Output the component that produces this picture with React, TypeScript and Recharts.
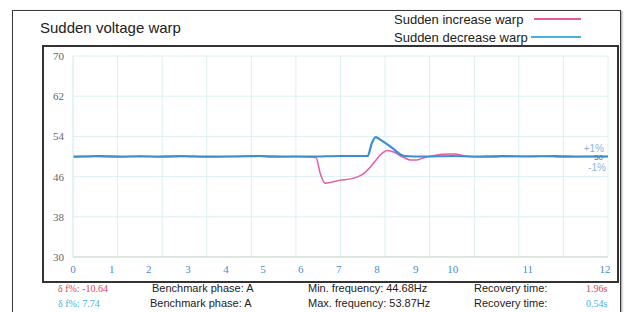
import { CartesianGrid, Line, LineChart, ReferenceLine, XAxis, YAxis } from "recharts";

// x values are in chart grid columns (12 equal columns), y in Hz
const increaseT = [0, 0.5, 1, 1.5, 2, 2.5, 3, 3.5, 4, 4.5, 5, 5.3, 5.45, 5.55, 5.65, 5.8, 5.99, 6.2, 6.37, 6.52, 6.66, 6.78, 6.88, 6.96, 7.04, 7.12, 7.22, 7.33, 7.45, 7.56, 7.7, 7.85, 8.05, 8.23, 8.4, 8.56, 8.79, 9.2, 9.8, 10.4, 11, 11.5, 12];
const increaseV = [49.9, 50.0, 49.9, 50.1, 49.9, 50.0, 49.9, 50.0, 50.1, 49.9, 50.0, 49.9, 49.8, 46.5, 44.7, 44.9, 45.3, 45.5, 45.9, 46.6, 47.8, 49.1, 50.2, 50.8, 51.2, 51.1, 50.8, 50.2, 49.7, 49.3, 49.3, 49.7, 50.1, 50.4, 50.5, 50.5, 50.1, 49.9, 50.0, 50.1, 49.9, 50.0, 50.0];
const decreaseT = [0, 0.6, 1.2, 1.8, 2.4, 3, 3.6, 4.2, 4.8, 5.4, 6, 6.61, 6.7, 6.79, 6.9, 7.05, 7.2, 7.33, 7.44, 7.9, 8.5, 9, 9.6, 10.2, 10.8, 11.4, 12];
const decreaseV = [50.0, 50.1, 50.0, 50.0, 50.1, 50.0, 50.0, 50.1, 50.0, 50.0, 50.1, 50.1, 52.6, 53.87, 53.3, 52.4, 51.4, 50.5, 50.1, 50.0, 50.1, 50.0, 50.1, 50.0, 50.1, 50.0, 50.0];

const tickLabels = ["0", "1", "2", "3", "4", "5", "6", "7", "8", "9", "10", "11", "12"];
const tickAt = [0, 0.87, 1.7, 2.58, 3.43, 4.26, 5.11, 5.96, 6.82, 7.69, 8.52, 10.2, 11.93];
const gridCols = [0, 1, 2, 3, 4, 5, 6, 7, 8, 9, 10, 11, 12];
const yTicks = [30, 38, 46, 54, 62, 70];

const increaseData = increaseT.map((t, i) => ({ t, v: increaseV[i] }));
const decreaseData = decreaseT.map((t, i) => ({ t, v: decreaseV[i] }));

const PINK = "#e659a6";
const BLUE = "#3a8fd0";
const sans = "'Liberation Sans', Arial, sans-serif";
const serif = "'Liberation Serif', 'Times New Roman', serif";

const bandLabel = (props: any) => {
  const { viewBox } = props;
  const x = viewBox.x + viewBox.width - 4;
  const y = viewBox.y;
  return (
    <g style={{ fontFamily: sans }} textAnchor="end">
      <text x={x} y={y - 5} fill="#8ab4dc" fontSize={10}>+1%</text>
      <text x={x - 1} y={y + 3} fill="#555" fontSize={8}>50</text>
      <text x={x + 2} y={y + 14} fill="#8ab4dc" fontSize={10}>-1%</text>
    </g>
  );
};

const txt = (left: number, top: number, s: string, color: string, font: string, size: number) => (
  <div style={{ position: "absolute", left, top, color, fontFamily: font, fontSize: size, lineHeight: "1", whiteSpace: "nowrap" }}>
    {s}
  </div>
);

export default function App() {
  return (
    <div style={{ position: "absolute", left: 0, top: 0, width: 626, height: 312, background: "#fff", overflow: "hidden" }}>
      <div style={{ position: "absolute", left: 12, top: 10, width: 607, height: 310, border: "1.5px solid #3a3a3a", boxShadow: "1px 1px 2px #999" }} />
      {txt(40, 20, "Sudden voltage warp", "#222", sans, 15)}
      {txt(394, 13, "Sudden increase warp", "#222", sans, 13)}
      {txt(394, 31, "Sudden decrease warp", "#222", sans, 13)}
      <div style={{ position: "absolute", left: 534, top: 18, width: 47, height: 2, background: PINK }} />
      <div style={{ position: "absolute", left: 531, top: 36, width: 50, height: 2, background: "#45b3e0" }} />
      <div style={{ position: "absolute", left: 42, top: 45, width: 573, height: 234, border: "2px solid #333" }} />
      <div style={{ position: "absolute", left: 42, top: 45, fontFamily: serif }}>
        <LineChart width={576} height={236} margin={{ top: 11, right: 10, bottom: 0, left: 0 }}>
          <XAxis xAxisId="grid" type="number" dataKey="t" domain={[0, 12]} ticks={gridCols} hide allowDataOverflow />
          <XAxis
            type="number"
            dataKey="t"
            domain={[0, 12]}
            ticks={tickAt}
            interval={0}
            tickFormatter={(v: number) => tickLabels[tickAt.indexOf(v)]}
            tickLine={false}
            axisLine={{ stroke: "#cdd6c6" }}
            tick={{ fill: "#4a8ad0", fontSize: 11 }}
            height={24}
            allowDataOverflow
          />
          <YAxis
            type="number"
            domain={[30, 70]}
            ticks={yTicks}
            interval={0}
            tickLine={false}
            axisLine={{ stroke: "#dcf0f2" }}
            tick={{ fill: "#666", fontSize: 11 }}
            tickMargin={3}
            width={31}
          />
          <CartesianGrid xAxisId="grid" stroke="#dcf0f2" strokeWidth={1} />
          <ReferenceLine y={50} stroke="none" label={bandLabel} />
          <Line data={increaseData} dataKey="v" type="monotone" stroke={PINK} strokeWidth={1.5} dot={false} isAnimationActive={false} />
          <Line data={decreaseData} dataKey="v" type="monotone" stroke={BLUE} strokeWidth={2.2} dot={false} isAnimationActive={false} />
        </LineChart>
      </div>
      {txt(58, 284, "δ f%:  -10.64", "#e0405a", serif, 10)}
      {txt(152, 283, "Benchmark phase: A", "#222", sans, 11)}
      {txt(308, 283, "Min. frequency: 44.68Hz", "#222", sans, 11)}
      {txt(474, 283, "Recovery time:", "#222", sans, 11)}
      {txt(586, 284, "1.96s", "#e0405a", serif, 10)}
      {txt(58, 299, "δ f%:  7.74", "#45b3e0", serif, 10)}
      {txt(150, 298, "Benchmark phase: A", "#222", sans, 11)}
      {txt(308, 298, "Max. frequency: 53.87Hz", "#222", sans, 11)}
      {txt(474, 298, "Recovery time:", "#222", sans, 11)}
      {txt(586, 299, "0.54s", "#45b3e0", serif, 10)}
    </div>
  );
}
